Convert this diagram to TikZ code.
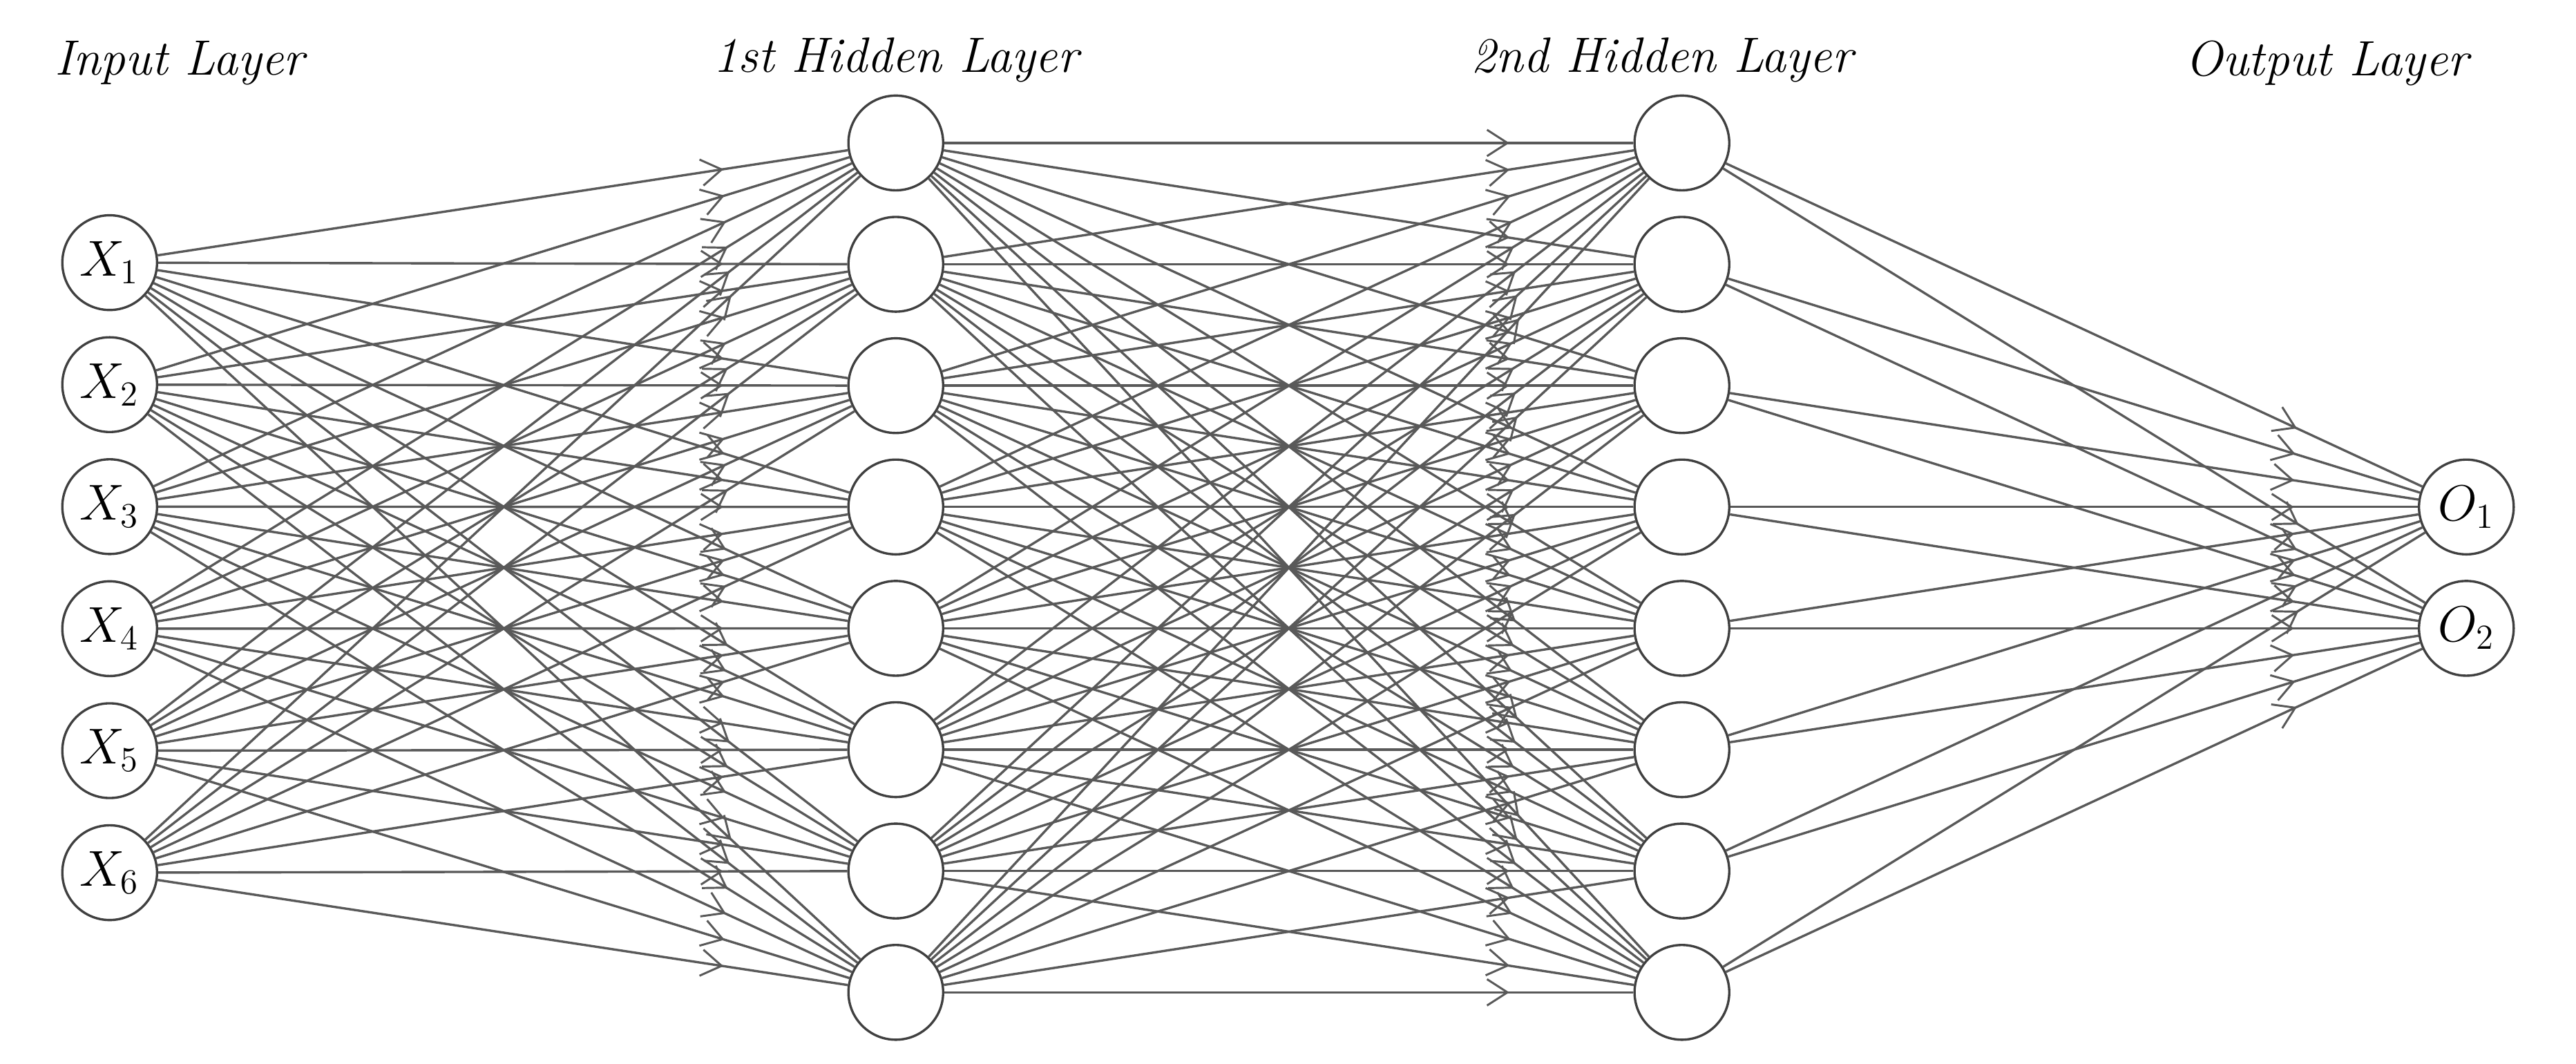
\documentclass[tikz,border=0pt]{standalone}
\usetikzlibrary{arrows.meta,decorations.markings}
\begin{document}
\begin{tikzpicture}[x=0.02cm,y=-0.02cm,
  neuron/.style={circle,draw=black!75,line width=0.8pt,fill=white,minimum size=1.14cm,inner sep=0pt,font=\fontsize{17}{20}\selectfont},
  title/.style={font=\fontsize{17}{20}\selectfont\itshape},
  conn/.style={draw=black!65,line width=0.8pt,postaction={decorate},
    decoration={markings,mark=at position 0.82 with {\arrow{Straight Barb[length=7pt,width=9pt,line width=0.7pt]}}}}]
\useasboundingbox (0,0) rectangle (1550,640);
\node[title] (tin) at (108,38) {Input Layer};
\node[title] (th1) at (539,36) {1st Hidden Layer};
\node[title] (th2) at (1000,36) {2nd Hidden Layer};
\node[title] (tout) at (1400,38) {Output Layer};
\foreach \i in {1,...,6} \node[neuron] (x\i) at (66,{158+73.4*(\i-1)}) {$X_{\i}$};
\foreach \i in {1,...,8} {
  \node[neuron] (a\i) at (539,{86+73*(\i-1)}) {};
  \node[neuron] (b\i) at (1012,{86+73*(\i-1)}) {};
}
\node[neuron] (o1) at (1484,305) {$O_1$};
\node[neuron] (o2) at (1484,378) {$O_2$};
\begin{scope}[on background layer/.style={}]
\foreach \i in {1,...,6} \foreach \j in {1,...,8} \path[conn] (x\i) -- (a\j);
\foreach \i in {1,...,8} \foreach \j in {1,...,8} \path[conn] (a\i) -- (b\j);
\foreach \i in {1,...,8} \foreach \j in {1,2} \path[conn] (b\i) -- (o\j);
\end{scope}
\end{tikzpicture}
\end{document}
